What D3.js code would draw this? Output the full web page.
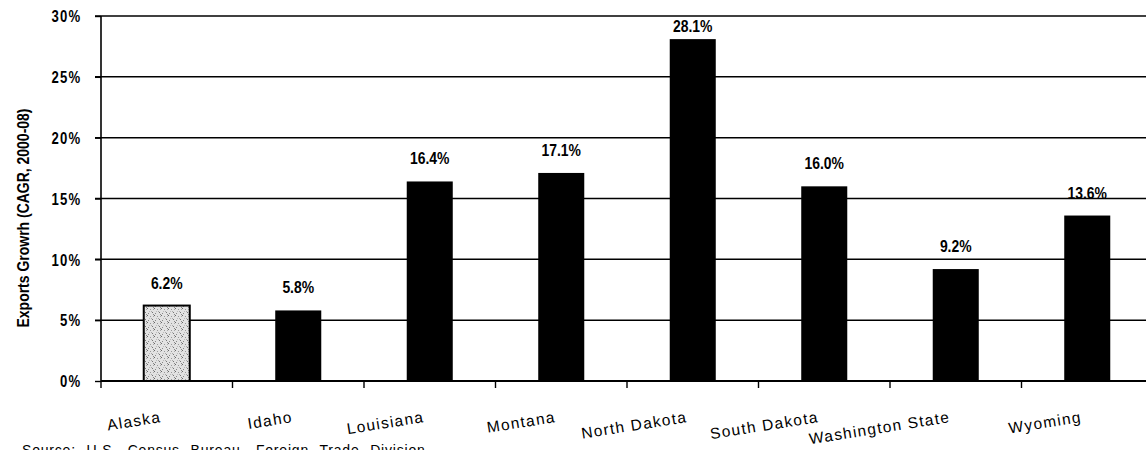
<!DOCTYPE html>
<html lang="en">
<head>
  <meta charset="UTF-8" />
  <title>Exports Growth by State</title>
  <style>
    html, body {
      margin: 0; padding: 0;
      background: #fff;
      overflow: hidden;
    }
    svg { display: block; }
    .grid line { stroke: #000; stroke-width: 1.5px; }
    .tick-lbl {
      font-family: "Liberation Sans", Arial, sans-serif;
      font-weight: bold;
      font-size: 16px;
      letter-spacing: 1.5px;
      fill: #000;
    }
    .val-lbl {
      font-family: "Liberation Sans", Arial, sans-serif;
      font-weight: bold;
      font-size: 17px;
      fill: #000;
    }
    .cat-lbl {
      font-family: "Liberation Sans", Arial, sans-serif;
      font-size: 15.5px;
      letter-spacing: 1.3px;
      fill: #000;
    }
    .axis-title {
      font-family: "Liberation Sans", Arial, sans-serif;
      font-weight: bold;
      font-size: 16px;
      fill: #000;
    }
    .source {
      font-family: "Liberation Sans", Arial, sans-serif;
      font-size: 14px;
      word-spacing: 6px;
      letter-spacing: 0.8px;
      fill: #000;
    }
  </style>
</head>
<body>
  <svg width="1146" height="450"></svg>

  <script src="https://d3js.org/d3.v7.min.js"></script>
  <script>
    // data
    const states = ["Alaska", "Idaho", "Louisiana", "Montana", "North Dakota", "South Dakota", "Washington State", "Wyoming"];
    const growth = [6.2, 5.8, 16.4, 17.1, 28.1, 16.0, 9.2, 13.6];
    const yTicks = [0, 5, 10, 15, 20, 25, 30];
    const highlight = "Alaska";

    const svg = d3.select("svg");

    const plotLeft = 101, plotBottom = 381, plotTop = 16;
    const step = 131.5;
    const narrow = 0.82; // squeeze Arial-like glyphs to look like Arial Narrow

    const x = d3.scaleBand()
      .domain(states)
      .range([plotLeft, plotLeft + step * states.length])
      .paddingInner(0.65)
      .paddingOuter(0.325);

    const y = d3.scaleLinear().domain([0, 30]).range([plotBottom, plotTop]);

    // stippled fill for the highlighted bar
    const defs = svg.append("defs");
    const pat = defs.append("pattern")
      .attr("id", "stipple")
      .attr("patternUnits", "userSpaceOnUse")
      .attr("width", 7).attr("height", 7);
    pat.append("rect").attr("width", 7).attr("height", 7).attr("fill", "#e2e2e2");
    [[0, 0, "#666"], [3, 1, "#999"], [5, 4, "#777"], [1, 5, "#888"], [4, 3, "#aaa"], [6, 6, "#888"], [2, 3, "#bbb"], [6, 1, "#aaa"]]
      .forEach(([px, py, c]) => pat.append("rect")
        .attr("x", px).attr("y", py).attr("width", 1).attr("height", 1).attr("fill", c));

    // gridlines
    svg.append("g").attr("class", "grid")
      .selectAll("line")
      .data(yTicks.filter(d => d > 0))
      .join("line")
      .attr("x1", plotLeft - 6).attr("x2", 1146)
      .attr("y1", d => y(d)).attr("y2", d => y(d));

    // y axis
    const yAxis = svg.append("g")
      .attr("transform", `translate(${plotLeft},0)`)
      .call(d3.axisLeft(y).tickValues(yTicks).tickSize(6).tickPadding(18).tickFormat(d => d + "%"));
    yAxis.select(".domain").attr("stroke", "#000").attr("stroke-width", 1.6).attr("d", `M0,${plotTop}V${plotBottom}`);
    yAxis.selectAll(".tick line").attr("stroke", "#000").attr("stroke-width", 1.4);
    yAxis.selectAll(".tick text")
      .attr("class", "tick-lbl")
      .attr("dy", "0.36em")
      .attr("transform", `scale(${narrow},1)`);

    // bars
    svg.append("g")
      .selectAll("rect")
      .data(states)
      .join("rect")
      .attr("x", d => x(d))
      .attr("y", (d, i) => y(growth[i]))
      .attr("width", x.bandwidth())
      .attr("height", (d, i) => y(0) - y(growth[i]))
      .attr("fill", d => d === highlight ? "url(#stipple)" : "#000")
      .attr("stroke", "#000")
      .attr("stroke-width", d => d === highlight ? 2 : 0);

    // x axis with ticks between categories
    const xAxis = svg.append("g").attr("transform", `translate(0,${plotBottom})`);
    xAxis.append("line")
      .attr("x1", plotLeft).attr("x2", 1146)
      .attr("stroke", "#000").attr("stroke-width", 2);
    xAxis.selectAll(".xt")
      .data(states)
      .join("line")
      .attr("class", "xt")
      .attr("x1", d => x(d) - x.step() * x.paddingInner() / 2)
      .attr("x2", d => x(d) - x.step() * x.paddingInner() / 2)
      .attr("y1", 0).attr("y2", 7)
      .attr("stroke", "#000").attr("stroke-width", 1.4);

    // category labels, slightly tilted
    svg.append("g")
      .selectAll("text")
      .data(states)
      .join("text")
      .attr("class", "cat-lbl")
      .attr("text-anchor", "end")
      .attr("transform", d => `translate(${x(d) + x.bandwidth() / 2 - 5},422) rotate(-9)`)
      .text(d => d);

    // value labels
    svg.append("g")
      .selectAll("text")
      .data(states)
      .join("text")
      .attr("class", "val-lbl")
      .attr("text-anchor", "middle")
      .attr("transform", (d, i) =>
        `translate(${x(d) + x.bandwidth() / 2},${Math.max(y(growth[i]) - 17, 32)}) scale(${narrow},1)`)
      .text((d, i) => growth[i].toFixed(1) + "%");

    // axis title
    svg.append("text")
      .attr("class", "axis-title")
      .attr("text-anchor", "middle")
      .attr("transform", "translate(29,218) rotate(-90)")
      .attr("textLength", 219)
      .attr("lengthAdjust", "spacingAndGlyphs")
      .text("Exports Growrh (CAGR, 2000-08)");

    // source line, cut off by the bottom edge
    svg.append("text")
      .attr("class", "source")
      .attr("x", 22).attr("y", 455)
      .text("Source:  U.S. Census Bureau, Foreign Trade Division");
  </script>
</body>
</html>
